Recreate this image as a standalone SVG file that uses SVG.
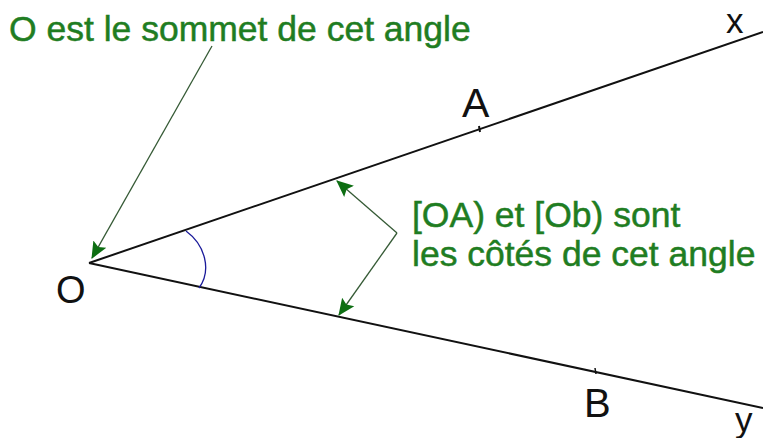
<svg xmlns="http://www.w3.org/2000/svg" width="763" height="438" viewBox="0 0 763 438">
<style>
.ray{stroke:#111;stroke-width:2;fill:none}
.conn{stroke:#355a35;stroke-width:1.3;fill:none}
.lbl{font-family:"Liberation Sans",Arial,sans-serif;fill:#111}
.note{font-family:"Liberation Sans",Arial,sans-serif;fill:#1f7d22;stroke:#1f7d22;stroke-width:0.5;font-size:35.5px}
</style>
<defs>
<marker id="ah" viewBox="0 0 16 16" refX="15" refY="8" markerWidth="17" markerHeight="17" markerUnits="userSpaceOnUse" orient="auto">
<path d="M0,1 L16,8 L0,15 L3,8 z" fill="#0d6e12"/>
</marker>
</defs>
<rect width="763" height="438" fill="#fff"/>
<g id="angle">
<line class="ray" x1="89" y1="263" x2="763" y2="32"/>
<line class="ray" x1="89" y1="263" x2="763" y2="408"/>
<line x1="479" y1="126" x2="480" y2="132" stroke="#111" stroke-width="2"/>
<line x1="595" y1="368" x2="596" y2="374" stroke="#111" stroke-width="1.5"/>
<path d="M186,231 C205,245 212,270 199,288" fill="none" stroke="#1a1a9a" stroke-width="1.3"/>
</g>
<g id="labels">
<text class="lbl" x="56" y="303" font-size="38">O</text>
<text class="lbl" x="462" y="117" font-size="41">A</text>
<text class="lbl" x="584" y="417" font-size="40">B</text>
<text class="lbl" x="726" y="33" font-size="35">x</text>
<text class="lbl" x="735" y="432" font-size="35">y</text>
</g>
<g id="note-sommet">
<text class="note" x="9" y="41">O est le sommet de cet angle</text>
</g>
<g id="note-cotes">
<text class="note" x="412" y="227">[OA) et [Ob) sont</text>
<text class="note" x="412" y="266">les côtés de cet angle</text>
</g>
<g id="connectors">
<line class="conn" x1="212" y1="46" x2="92" y2="258" marker-end="url(#ah)"/>
<line class="conn" x1="397" y1="233" x2="337" y2="181" marker-end="url(#ah)"/>
<line class="conn" x1="397" y1="233" x2="339" y2="315" marker-end="url(#ah)"/>
</g>
</svg>
